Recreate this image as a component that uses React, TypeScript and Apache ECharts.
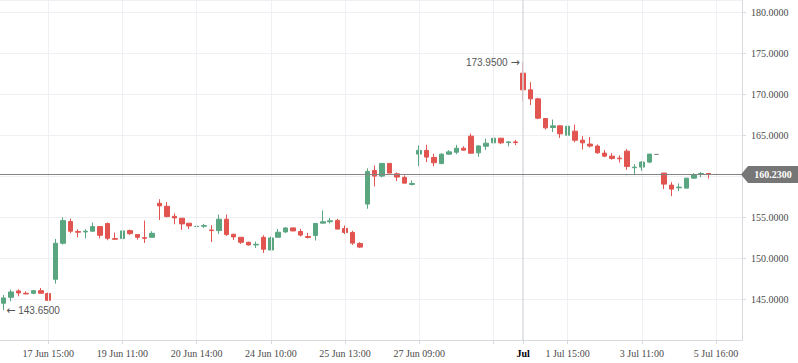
import React, { useEffect, useRef } from "react";
import * as echarts from "echarts";

const opens = [
  144.49, 145.22, 146.0, 145.71, 145.71, 146.03, 145.67, 147.42, 151.82, 154.47,
  153.25, 153.21, 153.29, 153.86, 154.23, 152.39, 152.39, 153.37, 152.88, 152.51,
  152.55, 156.71, 156.34, 155.12, 154.88, 154.27, 153.86, 153.9, 153.45, 153.37,
  154.76, 152.92, 152.55, 151.94, 151.62, 152.55, 151.0, 152.55, 153.21, 153.7,
  153.26, 152.65, 152.78, 154.28, 154.45, 154.61, 153.63, 153.14, 151.8, 156.61,
  160.72, 160.03, 161.58, 160.31, 159.87, 159.01, 162.72, 163.17, 162.31, 161.56,
  162.71, 162.95, 163.44, 164.91, 162.87, 163.68, 164.09, 164.66, 164.13, 164.21,
  172.61, 170.57, 169.47, 167.07, 165.97, 166.17, 165.03, 165.52, 164.42, 163.94,
  163.7, 162.84, 162.47, 162.23, 163.08, 161.05, 161.13, 161.74, 162.68, 160.4,
  158.93, 158.6, 158.56, 159.78, 160.23, 160.35, 160.23,
];
const closes = [
  145.14, 145.87, 145.75, 145.63, 146.03, 145.71, 144.85, 151.82, 154.59, 153.29,
  153.17, 153.29, 153.86, 152.8, 152.43, 152.31, 153.33, 153.0, 152.55, 152.43,
  153.04, 156.39, 155.08, 154.92, 154.19, 153.94, 153.9, 153.98, 153.37, 154.76,
  152.88, 152.6, 151.94, 151.62, 151.7, 151.09, 152.47, 153.17, 153.69, 153.33,
  152.82, 152.53, 154.24, 154.45, 154.57, 153.55, 153.14, 151.84, 151.35, 160.6,
  160.03, 161.58, 160.4, 159.91, 159.17, 159.13, 163.17, 162.35, 161.66, 162.71,
  162.99, 163.44, 163.2, 162.83, 163.72, 164.05, 164.66, 164.09, 164.21, 164.13,
  170.57, 169.47, 167.11, 165.93, 166.17, 165.19, 166.13, 164.42, 164.09, 163.7,
  162.88, 162.47, 162.19, 162.15, 161.21, 161.13, 161.74, 162.72, 162.68, 159.05,
  158.44, 158.68, 159.78, 160.15, 160.35, 160.27, 160.23,
];
const lows = [
  143.65, 144.73, 145.34, 145.59, 145.59, 145.67, 144.77, 146.89, 151.66, 153.04,
  152.55, 152.43, 153.29, 152.43, 152.19, 152.31, 152.27, 152.84, 152.27, 151.86,
  152.55, 154.67, 155.0, 154.14, 153.45, 153.57, 153.86, 153.7, 151.98, 152.96,
  152.72, 152.23, 151.74, 151.54, 151.25, 150.64, 151.0, 152.55, 153.08, 153.29,
  152.65, 152.41, 152.16, 154.28, 154.24, 153.55, 152.94, 151.63, 151.23, 156.04,
  158.77, 159.87, 160.4, 159.42, 159.17, 158.89, 161.25, 161.74, 161.25, 161.48,
  162.62, 162.71, 163.2, 162.75, 162.38, 163.24, 164.09, 163.93, 163.68, 163.81,
  169.23, 168.7, 166.98, 165.72, 165.4, 164.7, 164.95, 164.17, 163.28, 163.53,
  162.76, 162.35, 162.03, 161.7, 160.8, 160.23, 160.68, 161.62, 162.68, 158.44,
  157.58, 158.2, 158.56, 159.7, 159.9, 159.74, 160.23,
];
const highs = [
  145.5, 146.16, 146.2, 145.95, 146.03, 146.36, 145.79, 152.35, 155.0, 154.84,
  153.53, 153.53, 154.35, 153.86, 154.35, 153.13, 153.33, 153.49, 152.88, 154.59,
  153.29, 157.2, 156.87, 155.49, 154.88, 154.27, 154.67, 154.19, 154.02, 155.33,
  155.33, 152.96, 152.55, 152.02, 152.02, 152.8, 152.64, 153.57, 153.78, 153.7,
  153.59, 153.1, 154.24, 155.83, 154.93, 154.81, 154.0, 153.35, 151.96, 160.97,
  161.33, 161.58, 161.58, 160.48, 160.11, 159.5, 163.78, 163.86, 162.76, 162.83,
  163.2, 163.85, 163.68, 165.23, 163.81, 164.62, 164.78, 164.66, 164.29, 164.46,
  173.95, 171.51, 169.59, 167.07, 166.94, 166.25, 166.33, 166.33, 164.91, 164.8,
  163.9, 163.21, 162.84, 162.56, 163.33, 161.5, 161.86, 162.72, 162.68, 160.4,
  159.3, 159.13, 159.78, 160.4, 160.52, 160.35, 160.23,
];

const slotCount = 100;
const tickIndex = [6, 16, 26, 36, 46, 56, 66, 70, 76, 86, 96];
const tickText = [
  "17 Jun 15:00", "19 Jun 11:00", "20 Jun 14:00", "24 Jun 10:00", "25 Jun 13:00",
  "27 Jun 09:00", "", "Jul", "1 Jul 15:00", "3 Jul 11:00", "5 Jul 16:00",
];
const monthTick = 70;
const lastPrice = 160.23;
const yMin = 140;
const yMax = 181.55;
const yStep = 5;

const UP = "#5aa681";
const DOWN = "#e1544f";

export default function App() {
  const ref = useRef<HTMLDivElement>(null);

  useEffect(() => {
    if (!ref.current) return;
    const chart = echarts.init(ref.current, undefined, { renderer: "svg" });
    const categories = Array.from({ length: slotCount }, (_, i) => String(i));
    const candles = opens.map((o, i) => [o, closes[i], lows[i], highs[i]]);

    let hiIdx = 0;
    let loIdx = 0;
    highs.forEach((h, i) => { if (h > highs[hiIdx]) hiIdx = i; });
    lows.forEach((l, i) => { if (l < lows[loIdx]) loIdx = i; });

    const showTick = (idx: number) => tickIndex.indexOf(idx) >= 0;
    const annFont = "Liberation Sans";

    chart.setOption({
      animation: false,
      grid: { left: 0, right: 56, top: 0, bottom: 23, containLabel: false },
      xAxis: {
        type: "category",
        data: categories,
        boundaryGap: true,
        axisLine: { show: true, lineStyle: { color: "#d6dade", width: 1 } },
        axisTick: {
          show: true,
          alignWithLabel: true,
          interval: (idx: number) => showTick(idx),
          length: 4,
          lineStyle: { color: "#d6dade" },
        },
        axisLabel: {
          interval: (idx: number) => showTick(idx),
          formatter: (v: string) => {
            const k = tickIndex.indexOf(Number(v));
            if (k < 0) return "";
            const t = tickText[k];
            if (Number(v) === monthTick) return "{b|" + t + "}";
            return t;
          },
          color: "#4a4a4a",
          fontFamily: "Liberation Serif",
          fontSize: 10,
          margin: 8,
          rich: {
            b: { color: "#000", fontWeight: "bold", fontFamily: "Liberation Serif", fontSize: 10 },
          },
        },
        splitLine: { show: false },
      },
      yAxis: {
        type: "value",
        position: "right",
        min: yMin,
        max: yMax,
        interval: yStep,
        axisLine: { show: true, lineStyle: { color: "#d6dade" } },
        axisTick: { show: true, length: 4, lineStyle: { color: "#d6dade" } },
        axisLabel: {
          formatter: (v: number) => (Math.abs(v - lastPrice) < 1.5 ? "" : v.toFixed(4)),
          showMinLabel: false,
          showMaxLabel: false,
          color: "#4a4a4a",
          fontFamily: "Liberation Serif",
          fontSize: 10,
          margin: 9,
        },
        splitLine: { show: true, lineStyle: { color: "#eef0f3", width: 1 } },
      },
      series: [
        {
          type: "line",
          data: [],
          z: 1,
          silent: true,
          markLine: {
            silent: true,
            symbol: "none",
            label: { show: false },
            animation: false,
            data: [
              ...tickIndex.map((i) => ({
                xAxis: String(i),
                lineStyle: {
                  color: i === monthTick ? "#dadde1" : "#eef0f3",
                  width: i === monthTick ? 1.5 : 1,
                  type: "solid",
                },
              })),
              { yAxis: lastPrice, lineStyle: { color: "#848484", width: 1, type: "solid" } },
            ],
          },
        },
        {
          type: "candlestick",
          data: candles,
          barWidth: 5,
          z: 3,
          itemStyle: {
            color: UP,
            color0: DOWN,
            borderColor: UP,
            borderColor0: DOWN,
            borderColorDoji: "#8a8a8a",
            borderWidth: 1,
          },
          markPoint: {
            symbol: "circle",
            symbolSize: 1,
            itemStyle: { color: "rgba(0,0,0,0)" },
            data: [
              {
                coord: [String(hiIdx), highs[hiIdx]],
                label: {
                  show: true,
                  position: "left",
                  distance: 3,
                  formatter: highs[hiIdx].toFixed(4) + " {a|\u2192}",
                  color: "#555",
                  fontFamily: annFont,
                  fontSize: 10,
                  rich: { a: { fontFamily: "DejaVu Sans", fontSize: 11, color: "#555" } },
                },
              },
              {
                coord: [String(loIdx), lows[loIdx]],
                label: {
                  show: true,
                  position: "right",
                  distance: 2,
                  formatter: "{a|\u2190} " + lows[loIdx].toFixed(4),
                  color: "#555",
                  fontFamily: annFont,
                  fontSize: 10,
                  rich: { a: { fontFamily: "DejaVu Sans", fontSize: 11, color: "#555" } },
                },
              },
            ],
          },
        },
      ],
    });

    const py = chart.convertToPixel({ yAxisIndex: 0 }, lastPrice) as number;
    const ax = 798 - 56;
    chart.setOption({
      graphic: [
        {
          type: "polygon",
          shape: {
            points: [
              [ax - 1, py],
              [ax + 6, py - 8.5],
              [798, py - 8.5],
              [798, py + 8.5],
              [ax + 6, py + 8.5],
            ],
          },
          style: { fill: "#767676" },
          z: 10,
        },
        {
          type: "text",
          x: ax + 31,
          y: py,
          style: {
            text: lastPrice.toFixed(4),
            fill: "#ffffff",
            font: "bold 10px 'Liberation Serif'",
            align: "center",
            verticalAlign: "middle",
          },
          z: 11,
        },
      ],
    });

    return () => chart.dispose();
  }, []);

  return (
    <div
      ref={ref}
      style={{ position: "fixed", left: 0, top: 0, width: 798, height: 363, background: "#fff" }}
    />
  );
}
